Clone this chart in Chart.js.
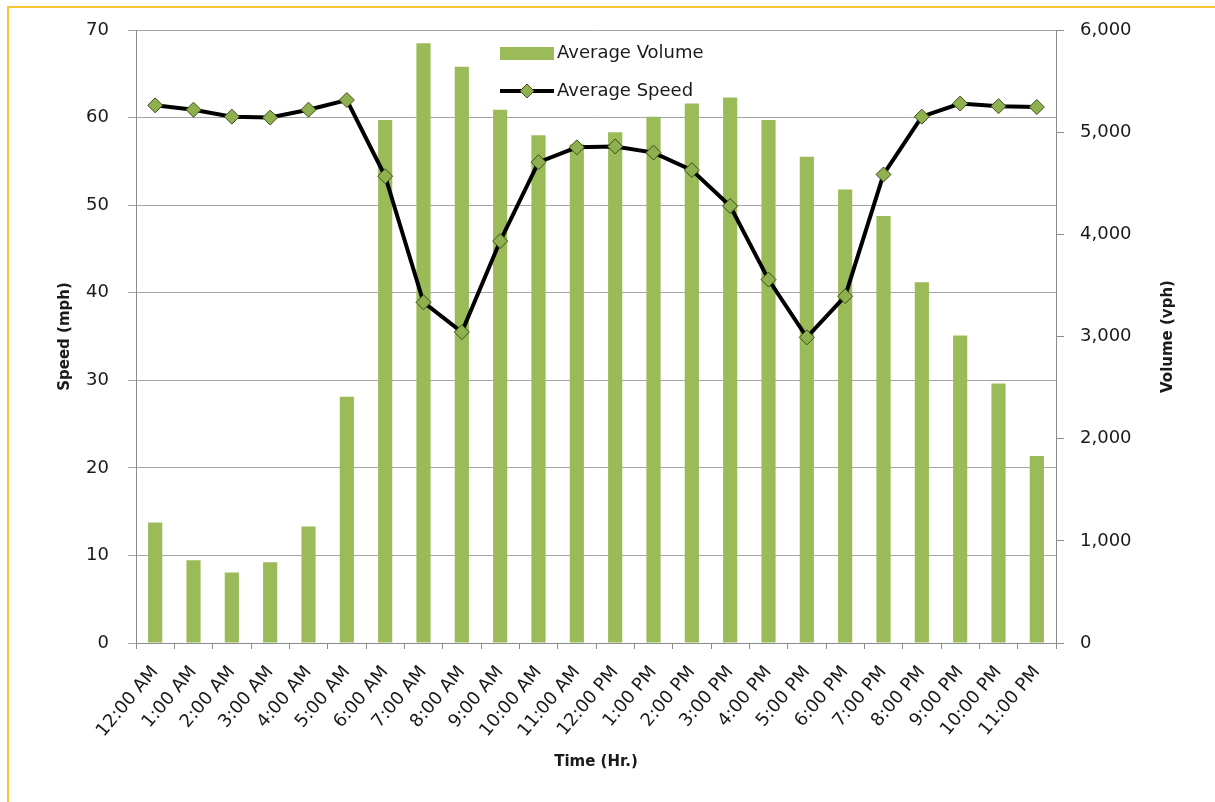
<!DOCTYPE html>
<html>
<head>
<meta charset="utf-8">
<script src="https://cdn.jsdelivr.net/npm/chart.js@4.4.0/dist/chart.umd.min.js"></script>
<style>
  body { margin: 0; background: #fff; }
  .frame { position: relative; width: 1215px; height: 802px; }
  .frame:before { content: ''; position: absolute; left: 7px; top: 6px; right: 0; height: 2px; background: #f8c634; }
  .frame:after { content: ''; position: absolute; left: 7px; top: 6px; bottom: 0; width: 2px; background: #f8c634; }
</style>
</head>
<body>
<div class="frame">
  <canvas id="myChart" width="1215" height="802"></canvas>
</div>
<script>
// Sample data
const hours = ['12:00 AM', '1:00 AM', '2:00 AM', '3:00 AM', '4:00 AM', '5:00 AM', '6:00 AM', '7:00 AM',
  '8:00 AM', '9:00 AM', '10:00 AM', '11:00 AM', '12:00 PM', '1:00 PM', '2:00 PM', '3:00 PM',
  '4:00 PM', '5:00 PM', '6:00 PM', '7:00 PM', '8:00 PM', '9:00 PM', '10:00 PM', '11:00 PM'];
const avgVolume = [1180, 810, 690, 790, 1140, 2410, 5120, 5870, 5640, 5220, 4970, 4880,
  5000, 5150, 5280, 5340, 5120, 4760, 4440, 4180, 3530, 3010, 2540, 1830];
const avgSpeed = [61.4, 60.9, 60.1, 60.0, 60.9, 62.0, 53.3, 38.9, 35.5, 45.9, 54.9, 56.6,
  56.7, 56.0, 54.0, 49.9, 41.5, 34.9, 39.6, 53.5, 60.1, 61.6, 61.3, 61.2];

const green = '#9bbb59';
const textColor = '#1a1a1a';
const gridColor = '#a6a6a6';
const axisColor = '#8c8c8c';

// legend drawn inside the plot, top middle
const insideLegend = {
  id: 'insideLegend',
  afterDraw(chart) {
    const ctx = chart.ctx;
    const sets = chart.data.datasets;
    const x = 500;
    ctx.save();
    ctx.font = '18px "DejaVu Sans"';
    ctx.textBaseline = 'middle';

    // bars
    ctx.fillStyle = sets[0].backgroundColor;
    ctx.fillRect(x, 47, 54, 13);
    ctx.fillStyle = textColor;
    ctx.fillText(sets[0].label, x + 57, 53);

    // line + diamond
    ctx.strokeStyle = sets[1].borderColor;
    ctx.lineWidth = 4;
    ctx.beginPath();
    ctx.moveTo(x, 91);
    ctx.lineTo(x + 54, 91);
    ctx.stroke();
    ctx.fillStyle = sets[1].pointBackgroundColor;
    ctx.strokeStyle = sets[1].pointBorderColor;
    ctx.lineWidth = 1;
    ctx.beginPath();
    ctx.moveTo(x + 27, 84); ctx.lineTo(x + 34, 91); ctx.lineTo(x + 27, 98); ctx.lineTo(x + 20, 91);
    ctx.closePath();
    ctx.fill();
    ctx.stroke();
    ctx.fillStyle = textColor;
    ctx.fillText(sets[1].label, x + 57, 91);

    // right axis title, reads bottom to top like the left one
    const y1 = chart.scales.y1;
    ctx.font = 'bold 15px "DejaVu Sans"';
    ctx.translate(1168, (y1.top + y1.bottom) / 2);
    ctx.rotate(-Math.PI / 2);
    ctx.textAlign = 'center';
    ctx.fillText('Volume (vph)', 0, 0);
    ctx.restore();
  }
};

const ctx = document.getElementById('myChart').getContext('2d');
const myChart = new Chart(ctx, {
  type: 'bar',
  data: {
    labels: hours,
    datasets: [
      {
        label: 'Average Volume',
        data: avgVolume,
        backgroundColor: green,
        yAxisID: 'y1',
        barPercentage: 0.37,
        categoryPercentage: 1,
        order: 1
      },
      {
        type: 'line',
        label: 'Average Speed',
        data: avgSpeed,
        borderColor: '#000',
        borderWidth: 4,
        pointStyle: 'rectRot',
        pointRadius: 7.5,
        pointBackgroundColor: '#8fb04e',
        pointBorderColor: '#3e4f1e',
        pointBorderWidth: 1,
        tension: 0,
        yAxisID: 'y',
        order: 0
      }
    ]
  },
  options: {
    responsive: false,
    animation: false,
    layout: { padding: { top: 30 } },
    plugins: {
      legend: { display: false },
      tooltip: { enabled: false }
    },
    scales: {
      x: {
        afterFit: (scale) => { scale.height = 159; },
        grid: {
          drawOnChartArea: false,
          drawTicks: true,
          tickLength: 6,
          color: axisColor
        },
        border: { color: axisColor },
        ticks: {
          color: textColor,
          font: { family: 'DejaVu Sans', size: 18 },
          maxRotation: 50,
          minRotation: 50,
          padding: 13,
          autoSkip: false
        },
        title: {
          display: true,
          text: 'Time (Hr.)',
          color: textColor,
          font: { family: 'DejaVu Sans', size: 15, weight: 'bold' },
          padding: { top: 0, bottom: 31 }
        }
      },
      y: {
        position: 'left',
        min: 0,
        max: 70,
        afterFit: (scale) => { scale.width = 136; },
        grid: { color: gridColor, tickLength: 8 },
        border: { color: axisColor },
        ticks: {
          stepSize: 10,
          color: textColor,
          font: { family: 'DejaVu Sans', size: 18 },
          padding: 19
        },
        title: {
          display: true,
          text: 'Speed (mph)',
          color: textColor,
          font: { family: 'DejaVu Sans', size: 15, weight: 'bold' },
          padding: { top: 56, bottom: 0 }
        }
      },
      y1: {
        position: 'right',
        min: 0,
        max: 6000,
        afterFit: (scale) => { scale.width = 159; },
        grid: { drawOnChartArea: false, color: axisColor, tickLength: 8 },
        border: { color: axisColor },
        ticks: {
          stepSize: 1000,
          color: textColor,
          font: { family: 'DejaVu Sans', size: 18 },
          padding: 16,
          callback: (value) => value.toLocaleString('en-US')
        }
      }
    }
  },
  plugins: [insideLegend]
});
</script>
</body>
</html>
